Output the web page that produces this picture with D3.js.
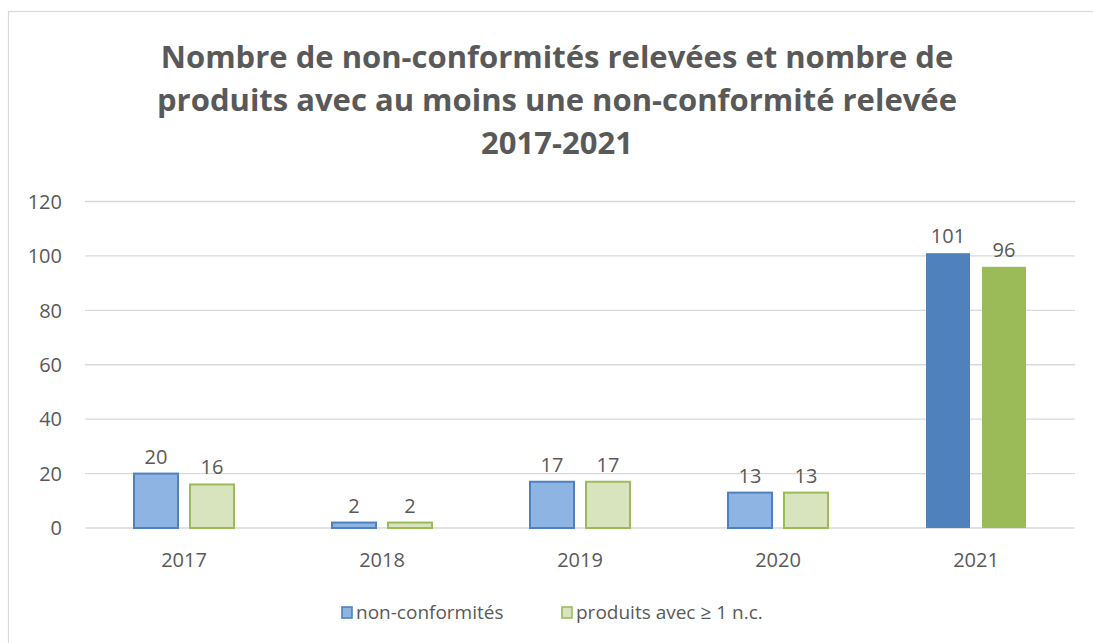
<!DOCTYPE html>
<html><head><meta charset="utf-8">
<script src="https://cdn.jsdelivr.net/npm/d3@7"></script>
<style>body{margin:0;background:#fff}svg{display:block}text{font-family:"Open Sans",sans-serif;fill:#595959}</style>
</head><body><svg id="c" width="1093" height="643"></svg>
<script>
const categories = ["2017","2018","2019","2020","2021"];
const seriesNames = ["non-conformités","produits avec ≥ 1 n.c."];
const nonConformites = [20,2,17,13,101];
const produits = [16,2,17,13,96];
const yTicks = [0,20,40,60,80,100,120];
const titleLines = ["Nombre de non-conformités relevées et nombre de","produits avec au moins une non-conformité relevée","2017-2021"];

(function(){
const svg = d3.select("#c");
svg.append("rect").attr("x",8.5).attr("y",11.5).attr("width",1200).attr("height",700)
  .attr("fill","#fff").attr("stroke","#d9d9d9").attr("stroke-width",1.2);

const pLeft=85,pRight=1075,pBottom=528,pTop=201.5;
const x = d3.scaleBand().domain(categories).range([pLeft,pRight]).padding(0);
const y = d3.scaleLinear().domain([0,120]).range([pBottom,pTop]);

svg.append("g").selectAll("line").data(yTicks).join("line")
  .attr("x1",pLeft).attr("x2",pRight).attr("y1",d=>y(d)).attr("y2",d=>y(d))
  .attr("stroke","#d9d9d9").attr("stroke-width",1.3);

svg.append("g").selectAll("text").data(yTicks).join("text")
  .attr("x",62).attr("y",d=>y(d)).attr("dy","0.36em").attr("text-anchor","end")
  .attr("font-size",20).text(d=>d);

svg.append("g").selectAll("text").data(categories).join("text")
  .attr("x",d=>x(d)+x.bandwidth()/2).attr("y",567).attr("text-anchor","middle")
  .attr("font-size",20).text(d=>d);

const barW=46, gap=10;
const series=[nonConformites,produits];
const lightFill=["#8EB4E3","#D7E4BD"], darkCol=["#4F81BD","#9BBB59"];
series.forEach((vals,si)=>{
  const off = si===0 ? -gap/2-barW : gap/2;
  const g=svg.append("g");
  g.selectAll("rect").data(categories).join("rect")
    .attr("x",(d,i)=>x(d)+x.bandwidth()/2+off+1)
    .attr("width",barW-2)
    .attr("y",(d,i)=>y(vals[i]))
    .attr("height",(d,i)=>pBottom-y(vals[i]))
    .attr("fill",(d,i)=> i===categories.length-1 ? darkCol[si] : lightFill[si])
    .attr("stroke",(d,i)=> i===categories.length-1 ? "none" : darkCol[si])
    .attr("stroke-width",2);
  g.selectAll("text").data(categories).join("text")
    .attr("x",(d,i)=>x(d)+x.bandwidth()/2+off+barW/2)
    .attr("y",(d,i)=>y(vals[i])-10)
    .attr("text-anchor","middle").attr("font-size",20)
    .text((d,i)=>vals[i]);
});

svg.append("g").selectAll("text").data(titleLines).join("text")
  .attr("x",557).attr("y",(d,i)=>68+i*43).attr("text-anchor","middle")
  .attr("font-size",31).attr("font-weight","bold").text(d=>d);

const leg=svg.append("g");
const legX=[341,561];
seriesNames.forEach((n,i)=>{
  leg.append("rect").attr("x",legX[i]+1).attr("y",607).attr("width",10).attr("height",11)
    .attr("fill",lightFill[i]).attr("stroke",darkCol[i]).attr("stroke-width",1.6);
  leg.append("text").attr("x",legX[i]+15).attr("y",619).attr("font-size",19).text(n);
});
})();
</script></body></html>
